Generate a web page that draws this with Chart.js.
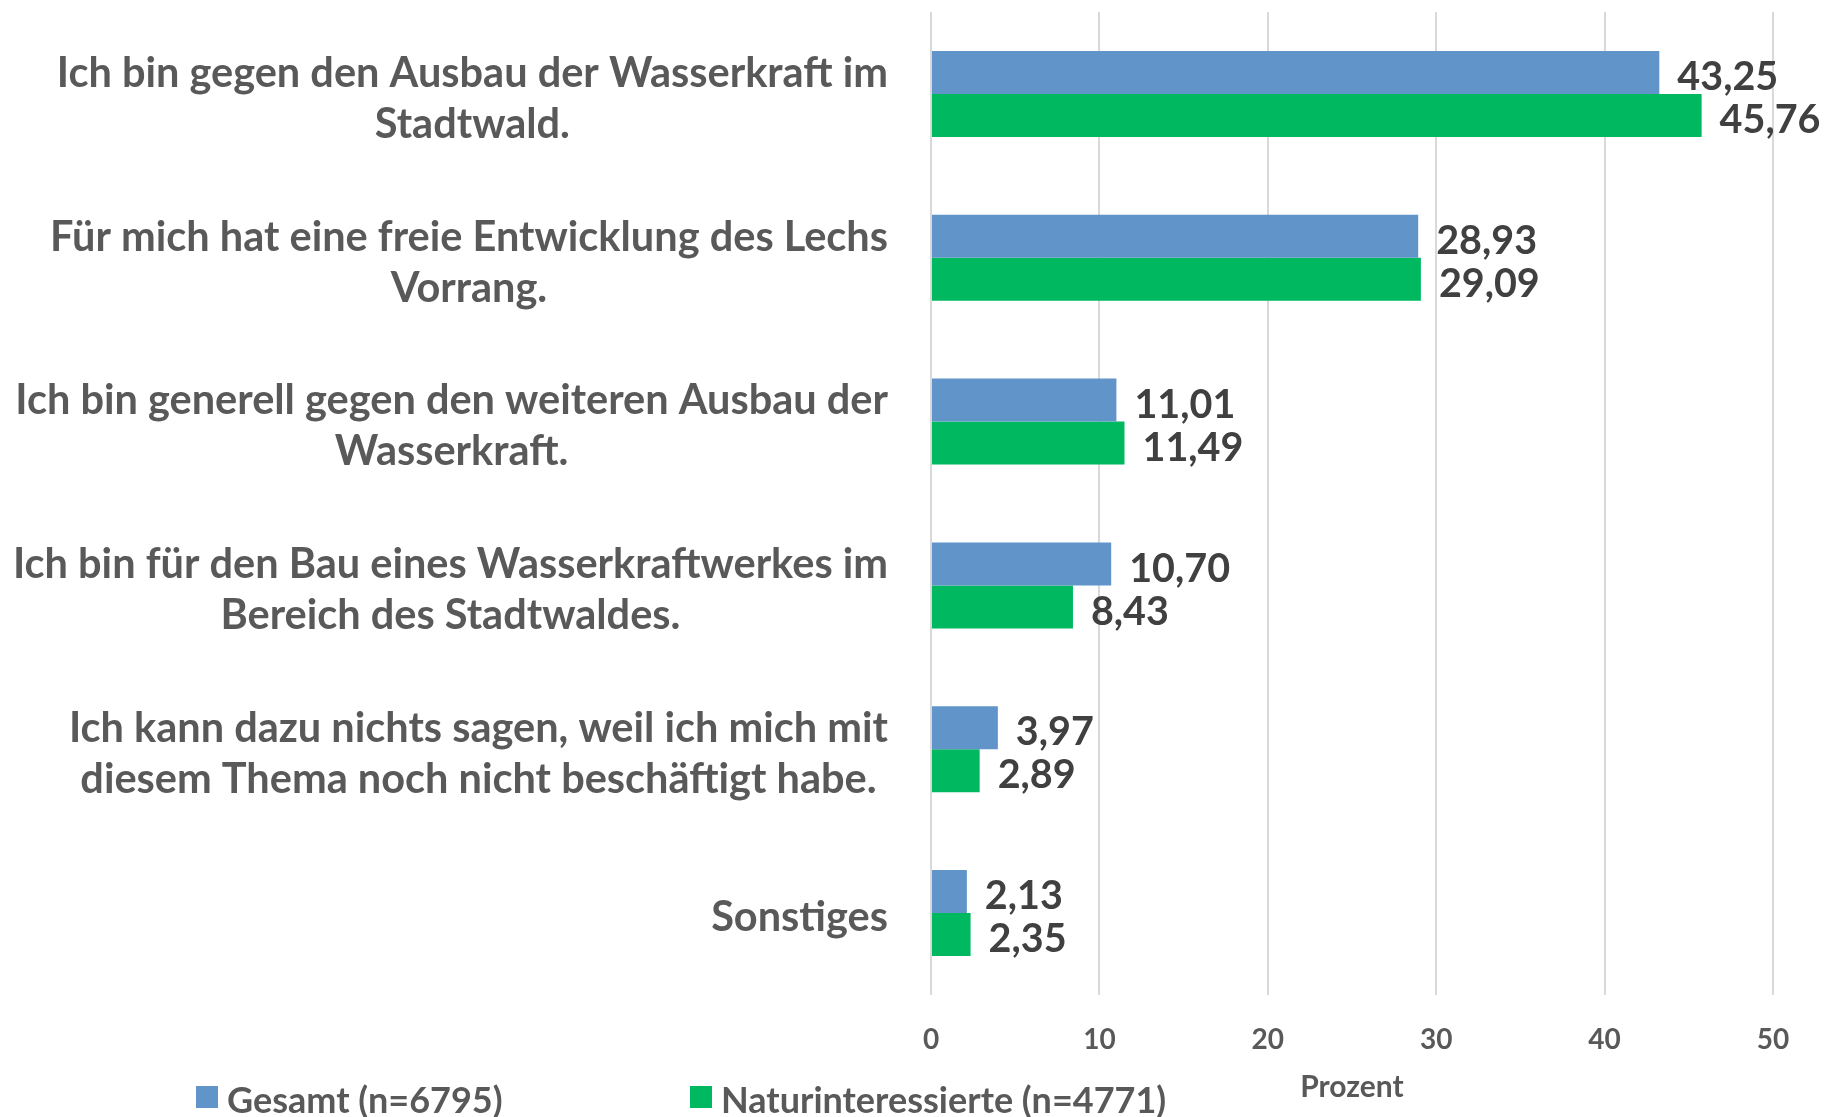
<!DOCTYPE html>
<html>
<head>
<meta charset="utf-8">
<script src="https://cdn.jsdelivr.net/npm/chart.js@4/dist/chart.umd.min.js"></script>
<style>
  html, body { margin: 0; padding: 0; background: #ffffff; }
  #wrap { width: 1825px; height: 1117px; position: relative; }
</style>
</head>
<body>
<div id="wrap"><canvas id="c" width="1825" height="1117"></canvas></div>
<script>
// Survey answers (each entry is split into the lines it is printed on)
const categories = [
  ["Ich bin gegen den Ausbau der Wasserkraft im", "Stadtwald."],
  ["Für mich hat eine freie Entwicklung des Lechs", "Vorrang."],
  ["Ich bin generell gegen den weiteren Ausbau der", "Wasserkraft."],
  ["Ich bin für den Bau eines Wasserkraftwerkes im", "Bereich des Stadtwaldes."],
  ["Ich kann dazu nichts sagen, weil ich mich mit", "diesem Thema noch nicht beschäftigt habe."],
  ["Sonstiges"]
];
const seriesNames = ["Gesamt (n=6795)", "Naturinteressierte (n=4771)"];
const gesamt = [43.25, 28.93, 11.01, 10.70, 3.97, 2.13];
const natur = [45.76, 29.09, 11.49, 8.43, 2.89, 2.35];
const xTicks = [0, 10, 20, 30, 40, 50];
const axisTitle = "Prozent";

const FONT = "Lato, 'Open Sans', sans-serif";
const BLUE = "#6195c9";
const GREEN = "#00b860";
const LABEL_GREY = "#595959";
const VALUE_GREY = "#404040";

const fmt = v => v.toFixed(2).replace(".", ",");

// Category labels: each block is right-aligned against the plot, lines centred within the block
const categoryLabels = {
  id: "categoryLabels",
  afterDraw(chart) {
    const ctx = chart.ctx;
    const y = chart.scales.y;
    const right = chart.chartArea.left - 43;
    const lineH = 51;
    ctx.save();
    ctx.font = "bold 41.5px " + FONT;
    ctx.fillStyle = LABEL_GREY;
    ctx.textAlign = "center";
    ctx.textBaseline = "middle";
    chart.data.labels.forEach((lines, i) => {
      const cy = y.getPixelForTick(i);
      const w = Math.max(...lines.map(l => ctx.measureText(l).width));
      const cx = right - w / 2;
      const y0 = cy - (lines.length - 1) * lineH / 2;
      lines.forEach((l, k) => ctx.fillText(l, cx, y0 + k * lineH + 5));
    });
    ctx.restore();
  }
};

// Value labels to the right of every bar
const valueLabels = {
  id: "valueLabels",
  afterDatasetsDraw(chart) {
    const ctx = chart.ctx;
    ctx.save();
    ctx.font = "bold 39.5px " + FONT;
    ctx.fillStyle = VALUE_GREY;
    ctx.textAlign = "left";
    ctx.textBaseline = "middle";
    chart.data.datasets.forEach((ds, di) => {
      chart.getDatasetMeta(di).data.forEach((bar, i) => {
        ctx.fillText(fmt(ds.data[i]), bar.x + 18, bar.y + 5);
      });
    });
    ctx.restore();
  }
};

// Legend along the bottom-left edge
const bottomLegend = {
  id: "bottomLegend",
  afterDraw(chart) {
    const ctx = chart.ctx;
    const starts = [196, 690];
    ctx.save();
    ctx.font = "bold 36px " + FONT;
    ctx.textBaseline = "middle";
    ctx.textAlign = "left";
    chart.data.datasets.forEach((ds, i) => {
      const x = starts[i];
      ctx.fillStyle = ds.backgroundColor;
      ctx.fillRect(x, 1086, 22, 22);
      ctx.fillStyle = LABEL_GREY;
      ctx.fillText(ds.label, x + 31, 1101);
    });
    ctx.restore();
  }
};

new Chart(document.getElementById("c"), {
  type: "bar",
  data: {
    labels: categories,
    datasets: [
      { label: seriesNames[0], data: gesamt, backgroundColor: BLUE },
      { label: seriesNames[1], data: natur, backgroundColor: GREEN }
    ]
  },
  options: {
    indexAxis: "y",
    responsive: false,
    animation: false,
    devicePixelRatio: 1,
    layout: { padding: { top: 12, right: 52, bottom: 0, left: 0 } },
    datasets: { bar: { categoryPercentage: 0.525, barPercentage: 1.0 } },
    plugins: { legend: { display: false }, tooltip: { enabled: false } },
    scales: {
      x: {
        min: 0, max: 50,
        afterBuildTicks: s => { s.ticks = xTicks.map(v => ({ value: v })); },
        afterFit: s => { s.height = 122; },
        grid: { color: "#d9d9d9", lineWidth: 2, drawTicks: false },
        border: { display: false },
        ticks: { padding: 28, color: LABEL_GREY, font: { family: FONT, size: 28, weight: "bold" } },
        title: {
          display: true, text: axisTitle, color: LABEL_GREY,
          font: { family: FONT, size: 30, weight: "bold" },
          padding: { top: 0, bottom: 12 }
        }
      },
      y: {
        afterFit: s => { s.width = 931; },
        grid: { display: false },
        border: { display: false },
        ticks: { display: false }
      }
    }
  },
  plugins: [categoryLabels, valueLabels, bottomLegend]
});
</script>
</body>
</html>
